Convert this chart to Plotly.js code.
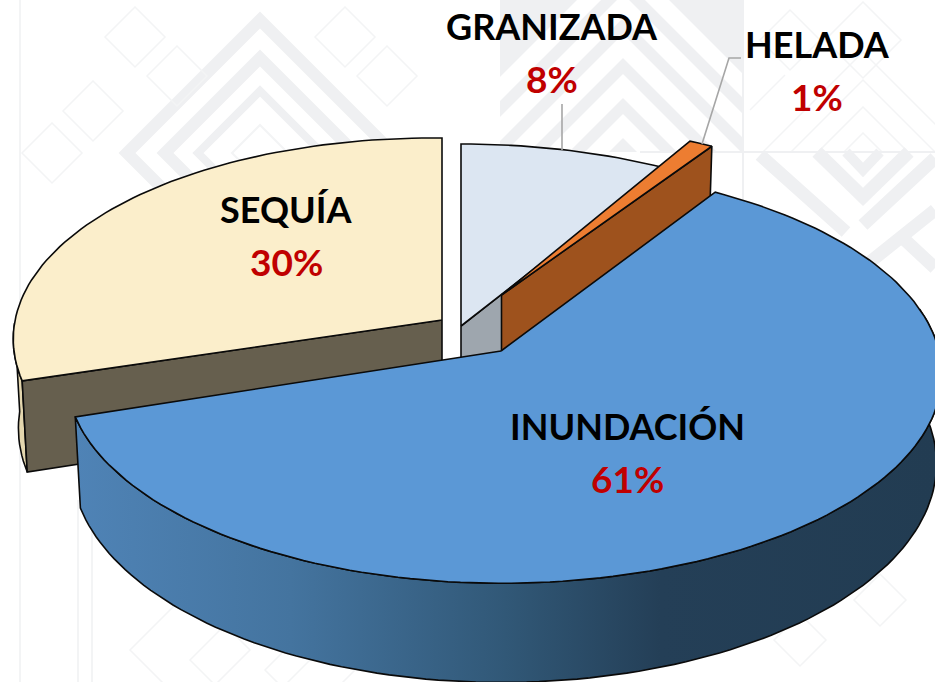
<!DOCTYPE html>
<html>
<head>
<meta charset="utf-8">
<style>html,body{margin:0;padding:0;background:#fff;overflow:hidden}#c{width:935px;height:682px}</style>
<script src="https://cdn.plot.ly/plotly-3.0.1.min.js"></script>
</head>
<body>
<div id="c"></div>
<script>
// Data, clockwise from 12 o'clock
const categories = ['GRANIZADA', 'HELADA', 'INUNDACIÓN', 'SEQUÍA'];
const shares = [8, 1, 61, 30];

const topColors = ['#dce6f2', '#ed7d31', '#5b98d6', '#fbeecb'];
const cutColors = ['#9ea6ae', '#9e521d', '#5b98d6', '#665f4e'];

// Exploded-slice geometry of the fake 3D view (apex px, radii px)
const apexX = [461, 501.5, 501, 442];
const apexY = [326, 295, 351, 320];
const radXright = [432, 430, 438, 426];
const radXleft = [432, 430, 432, 426];
const radY = [202.6, 193, 206, 202.6];
const skew = [0, 0, 0, 0.0095];
const tuck = [2.2, 0, 0, 0]; // degrees hidden under the next slice
const persp = 0.113, depth = 88, shrink = 0.988;

const labelX = [552, 817, 627, 286];
const labelY = [26, 44, 426, 209];
const pctGap = 52;

let acc = 0;
const startA = [], endA = [];
shares.forEach(v => { startA.push(acc * 3.6); acc += v; endA.push(acc * 3.6); });

function rim(i, deg, low) {
  const t = deg * Math.PI / 180, w = 1 + persp * Math.cos(t);
  const s = Math.sin(t);
  const dx = (s >= 0 ? radXright[i] : radXleft[i]) * s / w;
  const dy = -radY[i] * Math.cos(t) / w + skew[i] * dx;
  return low ? [apexX[i] + dx * shrink, apexY[i] + dy + depth / w]
             : [apexX[i] + dx, apexY[i] + dy];
}
function arc(i, a, b, low) {
  const out = [], n = Math.max(2, Math.ceil(Math.abs(b - a) / 1.5));
  for (let k = 0; k <= n; k++) out.push(rim(i, a + (b - a) * k / n, low));
  return out;
}
function poly(pts, fill, extra) {
  const closed = pts.concat([pts[0]]);
  return Object.assign({
    type: 'scatter', mode: 'lines', x: closed.map(p => p[0]), y: closed.map(p => p[1]),
    fill: 'toself', fillcolor: fill, line: { color: '#0a0a0a', width: 1.6 },
    hoverinfo: 'skip', showlegend: false
  }, extra || {});
}
function topFace(i) {
  return poly([[apexX[i], apexY[i]]].concat(arc(i, startA[i], endA[i] + tuck[i], false)), topColors[i]);
}
function cutFace(i, deg) {
  return poly([[apexX[i], apexY[i]], rim(i, deg, false), rim(i, deg, true), [apexX[i], apexY[i] + depth]], cutColors[i]);
}
function outerWall(i, a, b, extra, fill) {
  return poly(arc(i, a, b, false).concat(arc(i, b, a, true)), fill, extra);
}

const traces = [
  // SEQUÍA
  outerWall(3, startA[3], startA[3] + 16, {}, '#e3d6ae'),
  cutFace(3, startA[3]),
  topFace(3),
  // GRANIZADA
  cutFace(0, endA[0] + tuck[0]),
  topFace(0),
  // HELADA
  cutFace(1, endA[1]),
  topFace(1),
  // INUNDACIÓN
  outerWall(2, 78, endA[2], {
    fillgradient: { type: 'horizontal', start: 76, stop: 935, colorscale: [
      [0, '#4f83b6'], [0.25, '#44749f'], [0.5, '#315877'], [0.68, '#243f57'], [1, '#223c52']] }
  }, '#315877'),
  topFace(2)
];

// Faint background pattern
const shapes = [];
const band = '#eff0f2', thin = '#f3f4f5';
function diamond(cx, cy, r, color, w) {
  shapes.push({ type: 'path', layer: 'below', path: `M${cx - r},${cy}L${cx},${cy - r}L${cx + r},${cy}L${cx},${cy + r}Z`,
    line: { color: color, width: w }, fillcolor: 'rgba(0,0,0,0)' });
}
function stroke(path, color, w) {
  shapes.push({ type: 'path', layer: 'below', path: path, line: { color: color, width: w } });
}
// upper-middle quadrant: grey field with white chevrons
shapes.push({ type: 'rect', layer: 'below', x0: 500, x1: 743, y0: 0, y1: 152, fillcolor: band, line: { width: 0 } });
[26, 66, 106, 146, 186].forEach(r => diamond(623, 152, r, '#ffffff', 17));
shapes.push({ type: 'rect', layer: 'below', x0: 743, x1: 935, y0: 0, y1: 152, fillcolor: '#ffffff', line: { width: 0 } });
shapes.push({ type: 'rect', layer: 'below', x0: 300, x1: 500, y0: 0, y1: 682, fillcolor: '#ffffff', line: { width: 0 } });
shapes.push({ type: 'rect', layer: 'below', x0: 500, x1: 743, y0: 152, y1: 682, fillcolor: '#ffffff', line: { width: 0 } });
// left concentric diamond
[[133, 12], [95, 12], [62, 8], [28, 2]].forEach(d => diamond(260, 153, d[0], d[1] > 2 ? band : thin, d[1]));
// upper-right thin chevrons
[19, 45, 72, 100].forEach(r => stroke(`M${863 - r},152L863,${152 - r}L${863 + r},152`, thin, 1.5));
diamond(863, 40, 38, thin, 1.5);
diamond(790, 40, 30, thin, 1.5);
stroke('M750,110L785,75', thin, 1.5);
// lower-right grey chevrons
stroke('M846,152L863,170L880,152', band, 10);
stroke('M817,152L863,197L909,152', band, 13);
stroke('M760,155L846,232', band, 13);
stroke('M863,225L935,158', band, 13);
stroke('M870,262L935,210', band, 13);
stroke('M905,240L935,268', band, 13);
// axis lines of the pattern
[[743, 0, 743, 200], [640, 152, 935, 152]].forEach(l => stroke(`M${l[0]},${l[1]}L${l[2]},${l[3]}`, band, 2));
[[135, 37, 30], [52, 153, 30], [93, 111, 30], [177, 76, 30], [345, 37, 30], [387, 76, 30]].forEach(d => diamond(d[0], d[1], d[2], thin, 1.5));
[[20, 0], [78, 500], [92, 500]].forEach(l => stroke(`M${l[0]},${l[1]}L${l[0]},682`, thin, 2));
[[800, 640], [880, 600], [800, 560], [880, 520]].forEach(d => diamond(d[0], d[1], 26, thin, 1.5));
[[190, 650, 60], [250, 660, 60], [310, 670, 45]].forEach(d => diamond(d[0], d[1], d[2], thin, 1.5));

// Leader lines
const leader = { color: '#a6a6a6', width: 1.6 };
shapes.push({ type: 'path', layer: 'above', path: 'M562,104L562,150', line: leader });
shapes.push({ type: 'path', layer: 'above', path: 'M741,58L729,58L702,144', line: leader });

const labelFont = { family: 'Lato, Carlito, sans-serif', size: 36, color: '#000000' };
const pctFont = { family: 'Lato, Carlito, sans-serif', size: 37, color: '#c00000' };
const annotations = [];
categories.forEach((c, i) => {
  annotations.push({ x: labelX[i], y: labelY[i], text: '<b>' + c + '</b>', showarrow: false, font: labelFont, xanchor: 'center', yanchor: 'middle' });
  annotations.push({ x: labelX[i], y: labelY[i] + pctGap, text: '<b>' + Math.round(shares[i]) + '%</b>', showarrow: false, font: pctFont, xanchor: 'center', yanchor: 'middle' });
});

const axis = { visible: false, fixedrange: true, zeroline: false, showgrid: false };
Plotly.newPlot('c', traces, {
  width: 935, height: 682, margin: { l: 0, r: 0, t: 0, b: 0, pad: 0 },
  paper_bgcolor: '#ffffff', plot_bgcolor: 'rgba(0,0,0,0)', showlegend: false,
  xaxis: Object.assign({ range: [0, 935] }, axis),
  yaxis: Object.assign({ range: [682, 0] }, axis),
  shapes: shapes, annotations: annotations
}, { displayModeBar: false, staticPlot: true });
</script>
</body>
</html>
